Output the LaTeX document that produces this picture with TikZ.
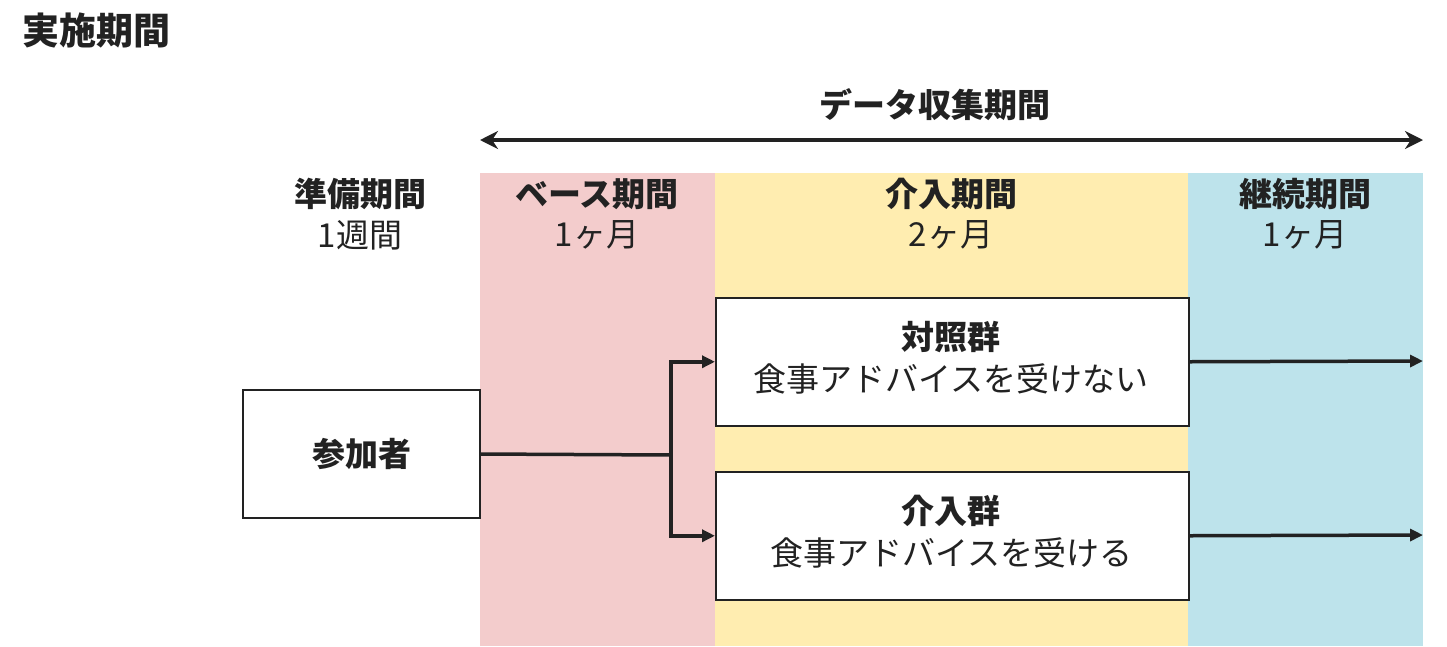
\documentclass[tikz,border=0pt]{standalone}
\usepackage{fontspec}
\setmainfont{Noto Sans CJK JP}
\usetikzlibrary{arrows.meta}
\definecolor{tx}{HTML}{222222}
\definecolor{pk}{HTML}{F3CCCC}
\definecolor{yl}{HTML}{FFEDB0}
\definecolor{bl}{HTML}{BDE3EB}
\begin{document}
\begin{tikzpicture}[x=1pt,y=-1pt,
  txt/.style={text=tx,font=\fontsize{33}{42}\selectfont,align=center},
  hd/.style={txt,font=\fontsize{33}{42}\selectfont\bfseries},
  box/.style={draw=tx,line width=1.5pt,fill=white},
  ln/.style={draw=tx,line width=3.5pt},
  arr/.style={ln,-{Triangle[length=13pt,width=12pt]}}]
\useasboundingbox (0,0) rectangle (1447,646);
\fill[pk] (480,173) rectangle (715,646);
\fill[yl] (715,173) rectangle (1188,646);
\fill[bl] (1188,173) rectangle (1423,646);
\node[hd,anchor=west,font=\fontsize{37}{42}\selectfont\bfseries] (title) at (19,30) {実施期間};
\node[hd] (dc) at (935,105) {データ収集期間};
\coordinate (al) at (480,140); \coordinate (ar) at (1423,140);
\draw[ln,{Stealth[length=18pt,width=18pt]}-{Stealth[length=18pt,width=18pt]}] (al) -- (ar);
\foreach \n/\x/\a/\b in {p1/360/準備期間/1週間,p2/597/ベース期間/1ヶ月,p3/951/介入期間/2ヶ月,p4/1305/継続期間/1ヶ月}{
  \node[hd] (\n h) at (\x,194) {\a};
  \node[txt] (\n s) at (\x,235) {\b};
}
\node[box,minimum width=237pt,minimum height=128pt] (sa) at (361.5,454) {};
\node[hd] at (sa) {参加者};
\node[box,minimum width=473pt,minimum height=128pt,anchor=north west] (ct) at (715,297) {};
\node[txt] at (951,358) {\textbf{対照群}\\食事アドバイスを受けない};
\node[box,minimum width=473pt,minimum height=128pt,anchor=north west] (iv) at (715,471) {};
\node[txt] at (951,532) {\textbf{介入群}\\食事アドバイスを受ける};
\coordinate (j) at (671,455);
\draw[ln] (sa.east) -- (j);
\draw[arr] (j) |- (ct.west);
\draw[arr] (j) |- (iv.west);
\coordinate (e1) at (1423,361); \coordinate (e2) at (1423,535);
\draw[arr] (ct.east) -- (e1);
\draw[arr] (iv.east) -- (e2);
\end{tikzpicture}
\end{document}
